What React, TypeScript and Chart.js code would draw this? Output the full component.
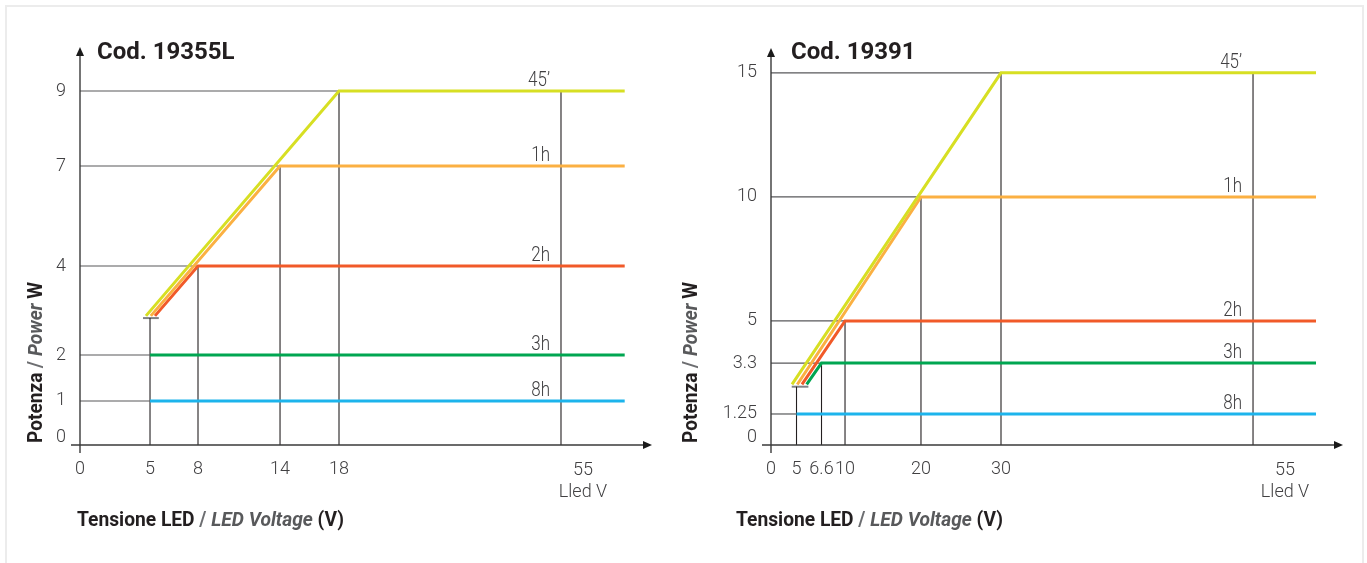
import React, { useEffect, useRef } from 'react';
import { Chart, registerables, LinearScale } from 'chart.js';

// ---------------- DATA ----------------
const seriesNames = ['45’', '1h', '2h', '3h', '8h'];
const seriesColors = ['#d7df23', '#fbb042', '#f15a29', '#00a651', '#1cb4ec'];

// Cod. 19355L
const leftTitle = 'Cod. 19355L';
const leftXTicks = [0, 5, 8, 14, 18, 55];
const leftYTicks = [0, 1, 2, 4, 7, 9];
const leftLevels = [9, 7, 4, 2, 1];
const leftKnees = [18, 14, 8, 5, 5];
const leftStartX = [4.71, 5.05, 5.31, 5, 5];
const leftStartY = [2.88, 2.88, 2.88, 2, 1];
const leftEndX = 65.5;
const leftMinV = 5;
const leftMaxV = 55;
const leftBarY = 2.83;
const leftBarX = [4.5, 5.55];

// Cod. 19391
const rightTitle = 'Cod. 19391';
const rightXTicks = [0, 5, 6.6, 10, 20, 30, 55];
const rightYTicks = [0, 1.25, 3.3, 5, 10, 15];
const rightLevels = [15, 10, 5, 3.3, 1.25];
const rightKnees = [30, 20, 10, 6.6, 5];
const rightStartX = [4.12, 5.05, 5.35, 5.65, 5];
const rightStartY = [2.44, 2.44, 2.44, 2.44, 1.25];
const rightEndX = 61.3;
const rightMinV = 5;
const rightMaxV = 55;
const rightBarY = 2.35;
const rightBarX = [4.06, 5.76];

const maxLabel = 'Lled V';

// ---------------- SCALE ----------------
class PiecewiseScale extends LinearScale {
  static id = 'piecewise';
  static defaults = LinearScale.defaults;
  getPixelForValue(value: number) {
    const vals = (this.options as any).breakValues as number[];
    const fr = (this.options as any).breakFractions as number[];
    if (value === null || value === undefined || isNaN(value)) return NaN;
    let i = 0;
    while (i < vals.length - 2 && value > vals[i + 1]) i++;
    const t = (value - vals[i]) / (vals[i + 1] - vals[i]);
    return this.getPixelForDecimal(fr[i] + t * (fr[i + 1] - fr[i]));
  }
  getValueForPixel(pixel: number) {
    const vals = (this.options as any).breakValues as number[];
    const fr = (this.options as any).breakFractions as number[];
    const d = this.getDecimalForPixel(pixel);
    let i = 0;
    while (i < fr.length - 2 && d > fr[i + 1]) i++;
    const t = (d - fr[i]) / (fr[i + 1] - fr[i]);
    return vals[i] + t * (vals[i + 1] - vals[i]);
  }
}
Chart.register(...registerables, PiecewiseScale);

const FONT = 'Roboto, "Noto Sans", sans-serif';
const TEXT = '#414042';

type PanelData = {
  title: string; xTicks: number[]; yTicks: number[]; levels: number[]; knees: number[];
  startX: number[]; startY: number[]; endX: number; minV: number; maxV: number; barY: number; barX: number[];
};
type PanelStyle = {
  width: number; pad: { left: number; right: number; top: number; bottom: number };
  yAxisW: number; xAxisH: number;
  xScale: any; yScale: any; titleX: number; xTitleX: number; yTitleX: number; maxLabelDx: number;
};

const leftData: PanelData = {
  title: leftTitle, xTicks: leftXTicks, yTicks: leftYTicks, levels: leftLevels, knees: leftKnees,
  startX: leftStartX, startY: leftStartY, endX: leftEndX, minV: leftMinV, maxV: leftMaxV, barY: leftBarY, barX: leftBarX,
};
const rightData: PanelData = {
  title: rightTitle, xTicks: rightXTicks, yTicks: rightYTicks, levels: rightLevels, knees: rightKnees,
  startX: rightStartX, startY: rightStartY, endX: rightEndX, minV: rightMinV, maxV: rightMaxV, barY: rightBarY, barX: rightBarX,
};

const leftStyle: PanelStyle = {
  width: 670,
  pad: { left: 10, right: 18, top: 47, bottom: 58 },
  yAxisW: 70, xAxisH: 60,
  xScale: { type: 'piecewise', min: 0, max: 70, breakValues: [0, 5, 8, 14, 18, 55, 70], breakFractions: [0, 0.1224, 0.2063, 0.3497, 0.4528, 0.8409, 1] },
  yScale: { type: 'piecewise', min: 0, max: 10, breakValues: [0, 1, 2, 4, 7, 9, 10], breakFractions: [0, 0.1106, 0.2261, 0.4497, 0.701, 0.8894, 1] },
  titleX: 97, xTitleX: 77, yTitleX: 42, maxLabelDx: 22,
};
const rightStyle: PanelStyle = {
  width: 697,
  pad: { left: 11, right: 24, top: 48, bottom: 58 },
  yAxisW: 90, xAxisH: 60,
  xScale: { type: 'piecewise', min: 0, max: 64, breakValues: [0, 5, 6.6, 10, 20, 30, 55, 64], breakFractions: [0, 0.0446, 0.0883, 0.1294, 0.2622, 0.4021, 0.8427, 1] },
  yScale: { type: 'linear', min: 0, max: 16 },
  titleX: 121, xTitleX: 66, yTitleX: 27, maxLabelDx: 32,
};

type Run = { t: string; f: string; c: string };
function runsWidth(ctx: CanvasRenderingContext2D, runs: Run[]) {
  let w = 0;
  for (const r of runs) { ctx.font = r.f; w += ctx.measureText(r.t).width; }
  return w;
}
function drawRuns(ctx: CanvasRenderingContext2D, runs: Run[], sx: number) {
  let cx = 0;
  ctx.save();
  ctx.scale(sx, 1);
  for (const r of runs) {
    ctx.font = r.f; ctx.fillStyle = r.c;
    ctx.fillText(r.t, cx, 0);
    cx += ctx.measureText(r.t).width;
  }
  ctx.restore();
}

function titleRuns(a: string, b: string, c: string): Run[] {
  return [
    { t: a, f: `bold 20px ${FONT}`, c: '#231f20' },
    { t: ' / ', f: `bold 20px ${FONT}`, c: '#6d6e71' },
    { t: b, f: `italic bold 20px ${FONT}`, c: '#58595b' },
    { t: c, f: `bold 20px ${FONT}`, c: '#231f20' },
  ];
}

function makeDecor(d: PanelData, s: PanelStyle) {
  return {
    id: 'decor',
    afterDatasetsDraw(chart: any) {
      const ctx: CanvasRenderingContext2D = chart.ctx;
      const a = chart.chartArea;
      const xs = chart.scales.x, ys = chart.scales.y;
      ctx.save();
      // axes
      ctx.strokeStyle = '#3a3a3a'; ctx.fillStyle = '#1a1a1a'; ctx.lineWidth = 1.4;
      ctx.beginPath(); ctx.moveTo(a.left - 9, a.bottom); ctx.lineTo(a.right - 6, a.bottom); ctx.stroke();
      ctx.beginPath(); ctx.moveTo(a.right, a.bottom); ctx.lineTo(a.right - 9, a.bottom - 4); ctx.lineTo(a.right - 9, a.bottom + 4); ctx.closePath(); ctx.fill();
      ctx.beginPath(); ctx.moveTo(a.left, a.bottom + 8); ctx.lineTo(a.left, a.top + 6); ctx.stroke();
      ctx.beginPath(); ctx.moveTo(a.left, a.top); ctx.lineTo(a.left - 4, a.top + 9); ctx.lineTo(a.left + 4, a.top + 9); ctx.closePath(); ctx.fill();

      // title
      ctx.font = `bold 24px ${FONT}`; ctx.fillStyle = '#231f20';
      ctx.textAlign = 'left'; ctx.textBaseline = 'alphabetic';
      ctx.fillText(d.title, s.titleX, 59);

      // series labels
      ctx.font = `300 20px ${FONT}`; ctx.fillStyle = TEXT;
      const lx = xs.getPixelForValue(d.maxV) - 11;
      d.levels.forEach((lv, i) => {
        const w = ctx.measureText(seriesNames[i]).width * 0.85;
        ctx.save();
        ctx.translate(lx - w, ys.getPixelForValue(lv) - 5);
        ctx.scale(0.85, 1);
        ctx.fillText(seriesNames[i], 0, 0);
        ctx.restore();
      });

      // zero label on y
      ctx.font = `300 18px ${FONT}`; ctx.fillStyle = TEXT;
      ctx.textAlign = 'right'; ctx.textBaseline = 'middle';
      ctx.fillText('0', a.left - 14, ys.getPixelForValue(0) - 8);

      // max voltage label
      ctx.textAlign = 'center';
      const mx = xs.getPixelForValue(d.maxV) + s.maxLabelDx;
      ctx.fillText(String(d.maxV), mx, a.bottom + 25);
      ctx.fillText(maxLabel, mx, a.bottom + 47);

      // x title
      ctx.textAlign = 'left'; ctx.textBaseline = 'alphabetic';
      const xr = titleRuns('Tensione LED', 'LED Voltage', ' (V)');
      const xw = runsWidth(ctx, xr);
      ctx.save(); ctx.translate(s.xTitleX, 526); drawRuns(ctx, xr, 267 / xw); ctx.restore();

      // y title
      const yr = titleRuns('Potenza', 'Power', ' W');
      const yw = runsWidth(ctx, yr);
      ctx.save(); ctx.translate(s.yTitleX, 443); ctx.rotate(-Math.PI / 2); drawRuns(ctx, yr, 161 / yw); ctx.restore();

      ctx.restore();
    },
  };
}

function buildConfig(d: PanelData, s: PanelStyle): any {
  const datasets: any[] = [];
  d.levels.forEach((lv, i) => {
    const pts = [{ x: d.startX[i], y: d.startY[i] }];
    if (d.knees[i] !== d.startX[i]) pts.push({ x: d.knees[i], y: lv });
    pts.push({ x: d.endX, y: lv });
    datasets.push({ data: pts, borderColor: seriesColors[i], borderWidth: 3, borderJoinStyle: 'miter' });
  });
  // horizontal guides
  d.levels.forEach((lv, i) => {
    datasets.push({ data: [{ x: 0, y: lv }, { x: d.knees[i], y: lv }], borderColor: '#58595b', borderWidth: 1.2 });
  });
  // vertical guides
  const knees = Array.from(new Set(d.knees));
  knees.forEach((k) => {
    const top = k === d.minV ? d.barY : Math.max(...d.levels.filter((_, i) => d.knees[i] === k));
    datasets.push({ data: [{ x: k, y: 0 }, { x: k, y: top }], borderColor: '#231f20', borderWidth: 1.1 });
  });
  datasets.push({ data: [{ x: d.maxV, y: 0 }, { x: d.maxV, y: Math.max(...d.levels) }], borderColor: '#231f20', borderWidth: 1.1 });
  // start bar
  datasets.push({ data: [{ x: d.barX[0], y: d.barY }, { x: d.barX[1], y: d.barY }], borderColor: '#808285', borderWidth: 2 });

  const tickFont = { family: FONT, size: 18, weight: '300' };
  return {
    type: 'line',
    data: { datasets },
    options: {
      animation: false,
      responsive: false,
      devicePixelRatio: 1,
      events: [],
      layout: { padding: s.pad },
      elements: { point: { radius: 0 }, line: { tension: 0 } },
      plugins: { legend: { display: false }, tooltip: { enabled: false }, title: { display: false } },
      scales: {
        x: {
          ...s.xScale,
          grid: { display: false, drawTicks: false },
          border: { display: false },
          ticks: {
            autoSkip: false, maxRotation: 0, minRotation: 0, padding: 14, font: tickFont, color: TEXT,
            callback: (v: number) => (v === d.maxV ? '' : String(v)),
          },
          afterBuildTicks: (sc: any) => { sc.ticks = d.xTicks.map((v) => ({ value: v })); },
          afterFit: (sc: any) => { sc.height = s.xAxisH; },
        },
        y: {
          ...s.yScale,
          grid: { display: false, drawTicks: false },
          border: { display: false },
          ticks: {
            autoSkip: false, padding: 14, font: tickFont, color: TEXT,
            callback: (v: number) => (v === 0 ? '' : String(v)),
          },
          afterBuildTicks: (sc: any) => { sc.ticks = d.yTicks.map((v) => ({ value: v })); },
          afterFit: (sc: any) => { sc.width = s.yAxisW; },
        },
      },
    },
    plugins: [makeDecor(d, s)],
  };
}

export default function App() {
  const leftRef = useRef<HTMLCanvasElement>(null);
  const rightRef = useRef<HTMLCanvasElement>(null);
  useEffect(() => {
    const c1 = new Chart(leftRef.current as HTMLCanvasElement, buildConfig(leftData, leftStyle));
    const c2 = new Chart(rightRef.current as HTMLCanvasElement, buildConfig(rightData, rightStyle));
    return () => { c1.destroy(); c2.destroy(); };
  }, []);
  return (
    <div style={{ position: 'fixed', left: 0, top: 0, width: 1367, height: 563, background: '#fff', overflow: 'hidden' }}>
      <div style={{ position: 'absolute', left: 5, top: 5, width: 1359, height: 570, boxSizing: 'border-box', borderTop: '2px solid #ececec', borderLeft: '2px solid #ececec', borderRight: '2px solid #ececec' }} />
      <canvas ref={leftRef} width={670} height={563} style={{ position: 'absolute', left: 0, top: 0, width: 670, height: 563 }} />
      <canvas ref={rightRef} width={697} height={563} style={{ position: 'absolute', left: 670, top: 0, width: 697, height: 563 }} />
    </div>
  );
}
